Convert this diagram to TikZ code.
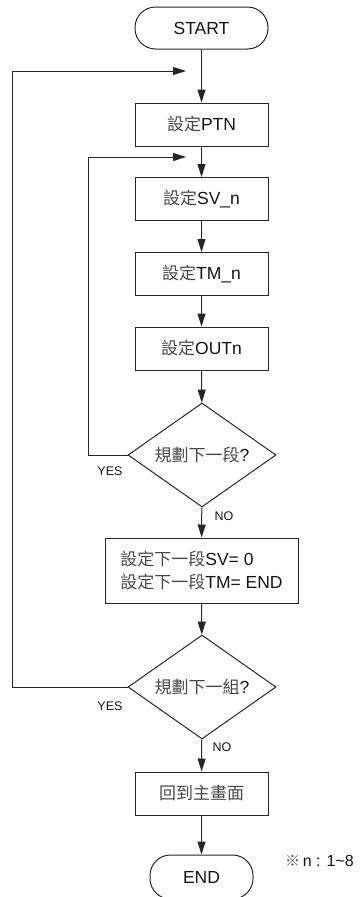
\documentclass[tikz,border=0pt]{standalone}
\usepackage{fontspec}
\setmainfont{Liberation Sans}
\newfontfamily\cjkfont{Noto Sans CJK TC}
\usetikzlibrary{arrows.meta,shapes.geometric}
\newcommand\zh[1]{{\cjkfont\fontsize{17}{23}\selectfont\color{black!72}#1}}
\begin{document}
\begin{tikzpicture}[x=1pt,y=-1pt,
  every node/.style={font=\fontsize{17.5}{23}\selectfont, text=black!92},
  ln/.style={draw=black!85, line width=1pt},
  arr/.style={ln, -{Triangle[length=13pt,width=8pt]}},
  proc/.style={ln, rectangle, minimum width=133pt, minimum height=43pt, inner sep=0pt},
  term/.style={ln, rectangle, rounded corners=20.5pt, minimum height=42pt, inner sep=0pt},
  dec/.style={ln, diamond, aspect=1.42, minimum width=148pt, minimum height=104pt, inner sep=0pt},
  lab/.style={font=\fontsize{12.5}{14}\selectfont, text=black!92}]
\useasboundingbox (0,0) rectangle (363,897);
\node[term, minimum width=133pt] (start) at (201.5,28) {START};
\node[proc] (ptn) at (201.5,124.5) {\zh{設定}PTN};
\node[proc] (sv) at (201.5,199) {\zh{設定}SV\_n};
\node[proc] (tm) at (201.5,274) {\zh{設定}TM\_n};
\node[proc] (out) at (201.5,348.5) {\zh{設定}OUTn};
\node[dec] (d1) at (202,455) {\zh{規劃下一段}?};
\node[proc, minimum width=193pt, minimum height=65pt, align=left] (last) at (201.5,570.5)
  {\zh{設定下一段}SV= 0\\\zh{設定下一段}TM= END};
\node[dec] (d2) at (202,687) {\zh{規劃下一組}?};
\node[proc] (home) at (201.5,793.5) {\zh{回到主畫面}};
\node[term, minimum width=103pt, minimum height=44pt] (end) at (201.5,877) {END};
\node[lab] (yes1) at (110,471) {YES};
\node[lab] (no1) at (224,516) {NO};
\node[lab] (yes2) at (110,706) {YES};
\node[lab] (no2) at (222,747) {NO};
\node[font=\fontsize{16}{18}\selectfont, anchor=west, inner sep=0pt] (note) at (285,861) {{\cjkfont\fontsize{15}{18}\selectfont\color{black!72}※}\,n : 1\textasciitilde 8};
\coordinate (j1) at (186,71);
\coordinate (j2) at (186,157);
\draw[arr] (start) -- (ptn);
\draw[arr] (ptn) -- (sv);
\draw[arr] (sv) -- (tm);
\draw[arr] (tm) -- (out);
\draw[arr] (out) -- (d1);
\draw[arr] (d1) -- (last);
\draw[arr] (last) -- (d2);
\draw[arr] (d2) -- (home);
\draw[arr] (home) -- (end);
\draw[arr] (d1.west) -- (88,455) |- (j2);
\draw[arr] (d2.west) -- (12,687) |- (j1);
\end{tikzpicture}
\end{document}
